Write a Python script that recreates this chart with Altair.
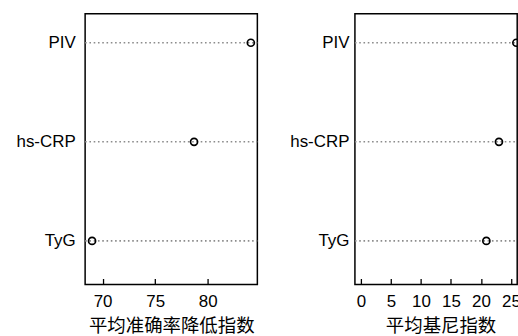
import altair as alt
import pandas as pd

variables = ["PIV", "hs-CRP", "TyG"]
mean_decrease_accuracy = [84.1, 78.7, 69.0]
mean_decrease_gini = [25.9, 23.0, 20.9]
ticks_left = [70, 75, 80]
ticks_right = [0, 5, 10, 15, 20, 25]
title_left = "平均准确率降低指数"
title_right = "平均基尼指数"

df = pd.DataFrame({"var": variables, "mda": mean_decrease_accuracy, "mdg": mean_decrease_gini})

H = 272
LATIN = "Liberation Sans"
CJK = "Noto Sans CJK SC"


def panel(field, title, ticks, domain, width, label_pad, title_x=None):
    y = alt.Y(
        "var:N",
        sort=variables,
        scale=alt.Scale(type="point", domain=variables, range=[29.2, 228.2], padding=0),
        axis=alt.Axis(
            ticks=False, domain=False, labelPadding=label_pad, labelFontSize=17,
            labelFont=LATIN, labelColor="black", grid=False,
        ),
        title=None,
    )
    ax = dict(
        values=ticks, offset=-6, tickSize=6, tickWidth=1.3, tickColor="black",
        domain=False, grid=False, labelPadding=9, labelFontSize=17, labelFont=LATIN,
        labelColor="black", labelFlush=False, titleFont=CJK, titleFontSize=18.5,
        titleFontWeight="normal", titleColor="black", titlePadding=7.5,
    )
    if title_x is not None:
        ax["titleX"] = title_x
        ax["titleAlign"] = "center"
    x = alt.X(
        f"{field}:Q",
        scale=alt.Scale(domain=domain, nice=False, zero=False),
        axis=alt.Axis(**ax),
        title=title,
    )
    rules = alt.Chart(df).mark_rule(
        color="#8c8c8c", strokeWidth=1.6, strokeDash=[1.6, 2.7]
    ).encode(y=y, x=alt.value(0), x2=alt.value(width))
    pts = alt.Chart(df).mark_point(
        shape="circle", filled=False, size=50, strokeWidth=1.7, color="black",
        opacity=1, clip=True,
    ).encode(y=y, x=x)
    return alt.layer(rules, pts).properties(width=width, height=H)


left = panel("mda", title_left, ticks_left, [68.34, 84.72], 173, 10)
right = panel("mdg", title_right, ticks_right, [-0.995, 26.04], 163, 6, title_x=86)

chart = alt.hconcat(left, right, spacing=98, bounds="flush").properties(
    padding={"left": 14.5, "top": 12, "right": -3.2, "bottom": -1},
    background="white",
).configure_view(stroke="black", strokeWidth=1.5)

chart.save("out.html", embed_options={"renderer": "svg", "actions": False})
